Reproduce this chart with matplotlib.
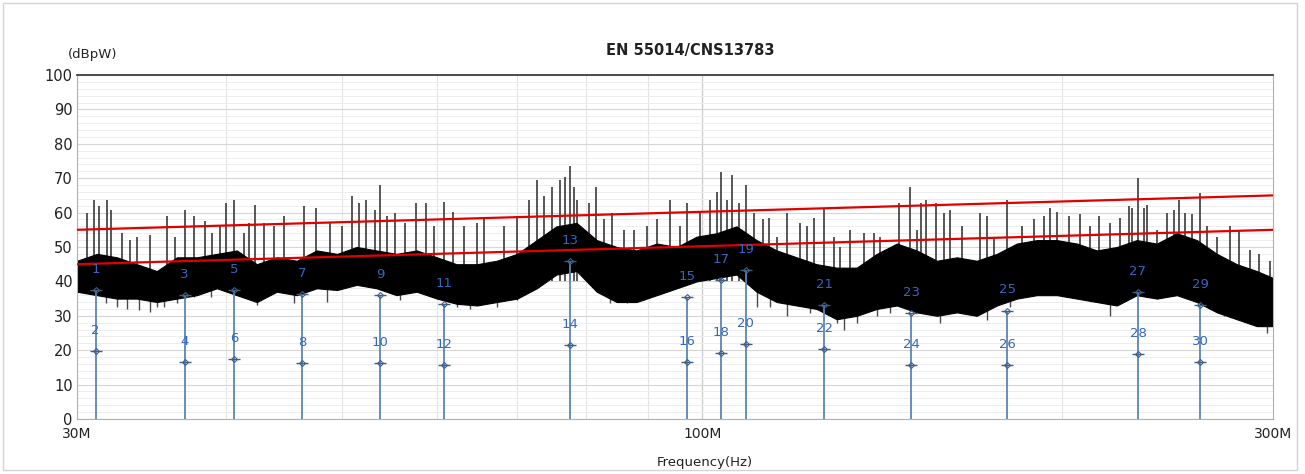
"""
EMI scan 30M-300M, EN 55014/CNS13783 disturbance power, with limit lines and markers
"""

import matplotlib
matplotlib.use('Agg')
import matplotlib.pyplot as plt
from matplotlib.patches import Rectangle
from matplotlib.ticker import FixedLocator, NullFormatter

# Dense part of the scan trace (MHz, dBpW)
band_freq = [30.0, 31.18, 32.40, 33.67, 34.99, 36.36, 37.79, 39.27, 40.81, 42.41,
             44.07, 45.8, 47.6, 49.5, 51.4, 53.4, 55.5, 57.7, 60.0, 62.3,
             64.8, 67.3, 70.0, 72.7, 75.5, 78.5, 81.6, 84.8, 88.1, 91.6,
             95.2, 98.9, 102.8, 106.8, 111.0, 115.4, 119.9, 124.6, 129.5, 134.6,
             139.9, 145.4, 151.1, 157.1, 163.2, 169.6, 176.3, 183.2, 190.4, 197.9,
             205.7, 213.7, 222.1, 230.8, 239.9, 249.3, 259.1, 269.3, 279.8, 290.8, 300.0]
band_lo = [37, 36, 35, 35, 34, 35, 36, 38, 36, 34,
           37, 36, 38, 37.5, 39, 38, 36, 37, 35, 33.5,
           33, 34, 35, 38, 42, 43, 37, 34, 34, 36,
           38, 40, 41, 42, 37, 34, 33, 32, 29, 30,
           32, 33, 31, 30, 31, 30, 33, 35, 36, 36,
           35, 34, 33, 36, 35, 36, 34, 31, 29, 27, 27]
band_hi = [46, 48, 47, 45, 43, 47, 47, 48, 49, 45,
           47, 46, 49, 48, 50, 49, 48, 49, 47, 45,
           45, 46, 48, 52, 56, 57, 52, 50, 49, 51,
           50, 53, 54, 56, 52, 49, 47, 45, 44, 44,
           48, 51, 49, 46, 47, 46, 48, 51, 52, 52,
           51, 49, 50, 52, 51, 54, 52, 48, 45, 43, 41]

# single spikes above the dense part
spike_freq = [30.6, 31.0, 31.3, 31.8, 32.0, 32.7, 33.2, 33.7, 34.5, 35.7, 36.2, 36.9,
              37.6, 38.4, 38.9, 39.5, 40.0, 40.6, 41.4, 41.8, 42.3, 43.0, 43.8, 44.7,
              46.4, 47.5, 48.8, 50.0, 50.9, 51.6, 52.3, 53.2, 53.8, 54.5, 55.3, 56.4,
              57.6, 58.7, 59.7, 60.8, 61.9, 63.2, 64.8, 65.7,
              68.3, 70.0, 71.6, 72.7, 73.7, 74.9, 76.0, 76.8, 77.5, 78.1, 78.6, 80.4,
              81.5, 82.8, 84.0, 86.0, 87.7, 89.9, 91.6, 94.0, 95.8,
              97.1, 99.5, 101.5, 102.9, 103.7, 104.9, 105.9, 107.3, 108.8, 110.5, 112.4,
              113.7, 115.5, 117.7, 120.7, 122.3, 124.0, 126.4, 128.9, 130.3, 132.9,
              136.5, 139.2, 140.8,
              146.0, 149.2, 151.2, 152.3, 153.8, 156.8, 159.2, 161.1, 164.9, 170.7,
              173.0, 175.3, 179.8, 185.0, 189.4, 193.1, 195.3, 197.9, 202.6, 206.9,
              210.9, 214.6, 219.2, 223.5, 227.4, 228.7, 231.4, 234.0, 235.4, 240.0,
              244.6, 248.0, 250.4, 253.3, 256.7, 260.7, 264.2, 269.4, 276.2, 281.0,
              287.0, 292.0, 298.3]
spike_top = [59.8, 63.7, 61.8, 63.7, 60.8, 54, 52, 53, 53.5, 59, 53, 60.8,
             59, 57.5, 54, 56, 62.7, 63.7, 54, 57, 62.2, 57, 56, 59,
             61.8, 61.3, 57, 56, 64.7, 62.7, 63.7, 60.8, 68, 59, 59.9, 57,
             62.7, 62.7, 56, 63.2, 60.3, 56, 57, 58,
             56, 59, 63.7, 69.5, 64.7, 67.5, 69.5, 70.4, 73.4, 67.5, 63.7, 62.7,
             67.5, 58, 59.9, 55, 55, 56, 58, 63.7, 56,
             62.7, 59.9, 63.7, 66.1, 71.9, 63.7, 71, 62.7, 68, 59.9, 58,
             58.4, 53, 59.9, 57, 56, 58.4, 61.3, 53, 50, 55,
             54, 54, 53,
             62.7, 67.5, 54.9, 62.7, 63.7, 62.7, 59.9, 60.8, 56, 59.9,
             59, 53, 63.7, 56, 58, 59, 61.3, 60.3, 59, 59.5,
             56, 59, 57, 58.4, 61.8, 61.3, 70, 61.3, 62.2, 55,
             59.9, 60.8, 63.7, 59.9, 59.5, 65.7, 56, 53, 56, 55,
             49, 48, 46]

# single spikes below the dense part
dip_freq = [31.7, 32.4, 33.0, 33.8, 34.5, 35.0, 35.5, 36.4, 37.6, 38.8, 42.4, 45.6,
            48.5, 55.9, 62.4, 63.9, 67.3, 70.0, 83.7, 86.5, 89.4, 111.1, 113.9, 117.7,
            123.0, 129.6, 131.4, 134.7, 140.0, 143.5, 158.0, 163.3, 173.0, 180.8, 219.2,
            273.0, 283.7, 296.6]
dip_bottom = [33.6, 32.6, 32.0, 31.7, 31.0, 32.6, 32.6, 33.6, 35.6, 35.6, 33.1, 33.6,
              34.1, 34.6, 32.6, 32.1, 32.6, 34.6, 33.6, 33.6, 34.6, 32.6, 32.6, 29.8,
              30.7, 27.8, 25.9, 27.8, 29.8, 30.7, 27.8, 31.7, 28.8, 32.6, 29.8,
              29.8, 28.8, 25.0]

# limit lines
limit_freq = [30, 300]
limit_upper = [55, 65]
limit_lower = [45, 55]

# markers: odd number at top of the line, even number lower on the same line
marker_freq = [31.1, 36.9, 40.6, 46.3, 53.8, 60.8, 77.5, 97.1, 103.6, 108.7,
               126.4, 149.5, 179.8, 231.3, 260.7]
marker_odd = [37.5, 36.0, 37.5, 36.3, 36.0, 33.4, 45.8, 35.5, 40.4, 43.3,
              33.1, 30.8, 31.5, 36.9, 33.1]
marker_even = [19.8, 16.6, 17.4, 16.3, 16.2, 15.7, 21.5, 16.6, 19.2, 21.8,
               20.3, 15.7, 15.7, 18.9, 16.6]

fig = plt.figure(figsize=(13.05, 4.74), dpi=100)
fig.patch.set_facecolor('white')
fig.patches.append(Rectangle((0.002, 0.008), 0.992, 0.985, transform=fig.transFigure,
                             fill=False, edgecolor='#d4d4d4', lw=1.0))
ax = fig.add_axes([0.059, 0.116, 0.9165, 0.7258])

ax.set_xscale('log')
ax.set_xlim(30, 300)
ax.set_ylim(0, 100)

# grid
ax.xaxis.set_major_locator(FixedLocator([30, 100, 300]))
ax.xaxis.set_minor_locator(FixedLocator([40, 50, 60, 70, 80, 90, 200]))
ax.xaxis.set_minor_formatter(NullFormatter())
ax.set_xticklabels(['30M', '100M', '300M'])
ax.yaxis.set_major_locator(FixedLocator(range(0, 101, 10)))
ax.yaxis.set_minor_locator(FixedLocator([v for v in range(0, 101, 2) if v % 10]))
ax.grid(True, which='major', axis='y', color='#d6d6d6', lw=0.8, zorder=0)
ax.grid(True, which='minor', axis='y', color='#ededed', lw=0.7, zorder=0)
ax.grid(True, which='minor', axis='x', color='#e4e4e4', lw=0.8, zorder=0)
ax.axvline(100, color='#c8c8c8', lw=0.9, zorder=0)
ax.set_axisbelow(True)

ax.tick_params(which='both', length=0)
ax.tick_params(axis='y', labelsize=10.5, pad=3, colors='#222222')
ax.tick_params(axis='x', labelsize=10, pad=6, colors='#222222')

for side in ['left', 'right', 'bottom']:
    ax.spines[side].set_color('#b0b0b0')
    ax.spines[side].set_linewidth(0.8)
ax.spines['top'].set_color('#404040')
ax.spines['top'].set_linewidth(1.3)

# scan trace: thin spikes under a dense band
ax.vlines(spike_freq, 40, spike_top, colors='#2a2a2a', lw=1.1, zorder=1)
ax.vlines(dip_freq, dip_bottom, 40, colors='#4a4a4a', lw=1.0, zorder=1)
ax.fill_between(band_freq, band_lo, band_hi, facecolor='black',
                edgecolor='black', lw=0.8, zorder=2)

# marker lines
ax.vlines(marker_freq, 0, marker_odd, colors='#5b86b5', lw=1.3, zorder=3)

# limits
ax.plot(limit_freq, limit_upper, color='#e00000', lw=1.6, zorder=4)
ax.plot(limit_freq, limit_lower, color='#e00000', lw=1.6, zorder=4)

# marker symbols and numbers
for vals, first in [(marker_odd, 1), (marker_even, 2)]:
    ax.plot(marker_freq, vals, ls='none', marker='_', ms=9, mew=1.0, color='#3f5f85', zorder=5)
    ax.plot(marker_freq, vals, ls='none', marker='D', ms=3, mfc='none', mew=0.8,
            color='#3f5f85', zorder=5)
    for i, (f, v) in enumerate(zip(marker_freq, vals)):
        ax.annotate(str(first + 2 * i), (f, v), xytext=(0, 15), textcoords='offset points',
                    ha='center', va='center', fontsize=9.5, color='#3566c0', zorder=6)

fig.text(0.529, 0.893, 'EN 55014/CNS13783', ha='center', va='center',
         fontsize=10.5, fontweight='bold', color='#222222')
fig.text(0.052, 0.884, '(dBpW)', ha='left', va='center', fontsize=9.5, color='#222222')
fig.text(0.54, 0.025, 'Frequency(Hz)', ha='center', va='center', fontsize=9.5, color='#222222')

fig.savefig('out.png', dpi=100)
